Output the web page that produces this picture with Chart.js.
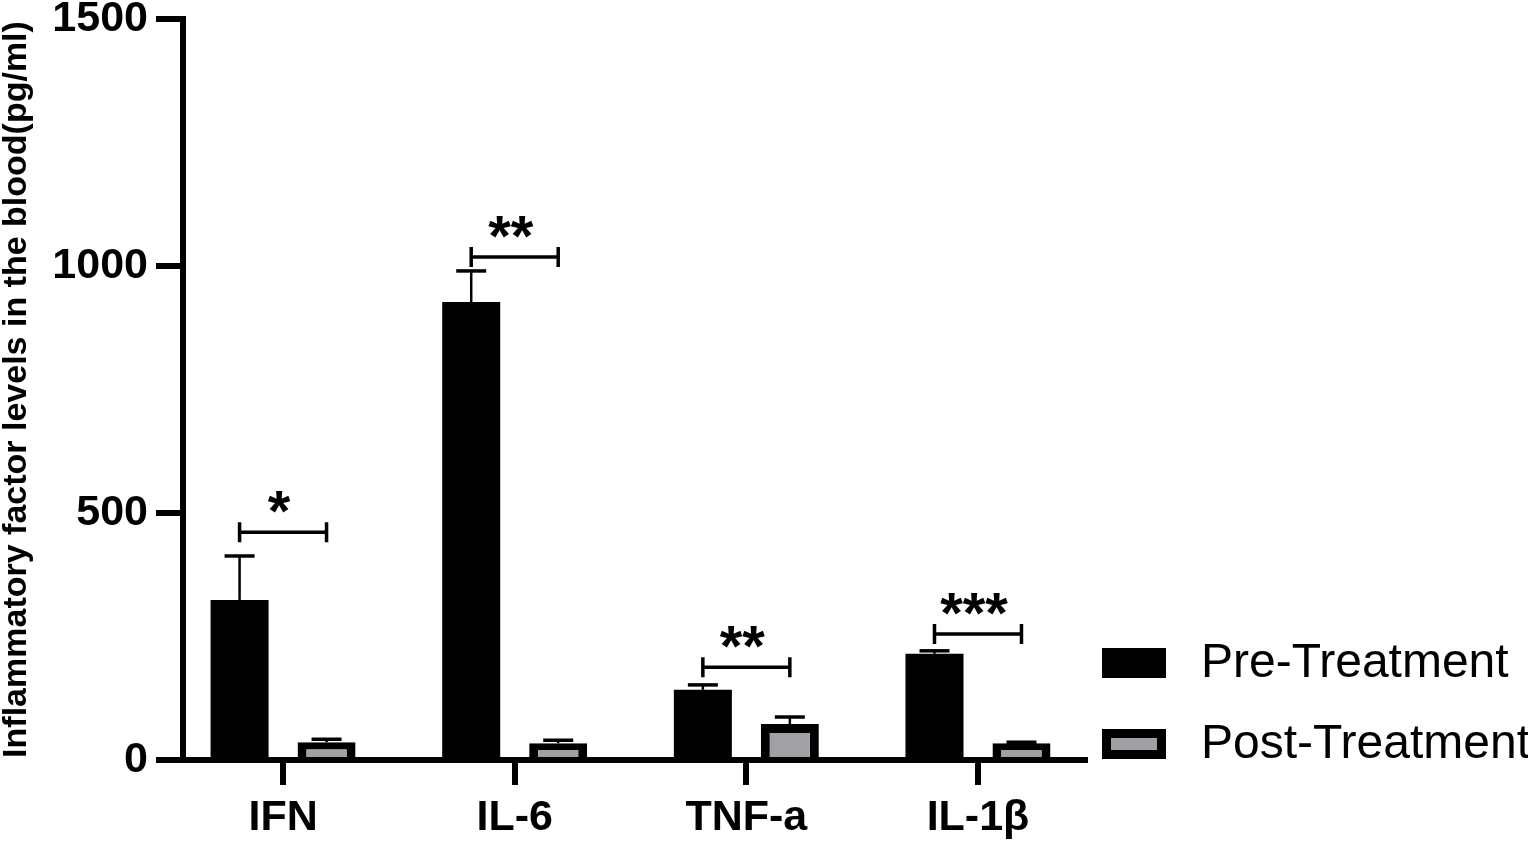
<!DOCTYPE html>
<html>
<head>
<meta charset="utf-8">
<script src="https://cdn.jsdelivr.net/npm/chart.js@4.4.1/dist/chart.umd.min.js"></script>
<style>
    html, body { margin: 0; padding: 0; background: #ffffff; }
    #wrap { width: 1528px; height: 848px; }
</style>
</head>
<body>
<div id="wrap"><canvas id="cytokineChart"></canvas></div>
<script>
// -------------------------------------------------------------------------- Data

const cytokines = ['IFN', 'IL-6', 'TNF-a', 'IL-1β']
const groups = ['Pre-Treatment', 'Post-Treatment']

const preMean = [324, 927, 142, 215]
const preSD = [89, 63, 10, 6]
const postMean = [36, 34, 73, 34]
const postSD = [6, 6, 14, 2]

// significance brackets (y value of the bracket) and their marks
const sigMarks = ['*', '**', '**', '***']
const sigLevel = [461, 1018, 188, 255]

const yTicks = [0, 500, 1000, 1500]

// -------------------------------------------------------------------------- Style

let black = '#000000'
let grey = '#a0a0a5'
const family = "'Liberation Sans', Arial, Helvetica, sans-serif"

// -------------------------------------------------------------------------- Plugins

// error bars (mean + SD) on top of every bar
const errorBars = {
    id: 'errorBars',
    afterDatasetsDraw(chart) {
        const ctx = chart.ctx
        const yScale = chart.scales.y
        const sds = [preSD, postSD]
        ctx.save()
        ctx.strokeStyle = black
        chart.data.datasets.forEach((ds, i) => {
            chart.getDatasetMeta(i).data.forEach((bar, j) => {
                const top = yScale.getPixelForValue(ds.data[j].y + sds[i][j])
                ctx.lineWidth = 2.5
                ctx.beginPath()
                ctx.moveTo(bar.x, bar.y)
                ctx.lineTo(bar.x, top)
                ctx.stroke()
                ctx.lineWidth = 3.5
                ctx.beginPath()
                ctx.moveTo(bar.x - 15, top)
                ctx.lineTo(bar.x + 15, top)
                ctx.stroke()
            })
        })
        ctx.restore()
    }
}

// brackets with stars between pre and post bars
const sigBrackets = {
    id: 'sigBrackets',
    afterDatasetsDraw(chart) {
        const ctx = chart.ctx
        const pre = chart.getDatasetMeta(0).data
        const post = chart.getDatasetMeta(1).data
        ctx.save()
        ctx.strokeStyle = black
        ctx.fillStyle = black
        ctx.lineWidth = 3.5
        ctx.font = 'bold 58px ' + family
        ctx.textAlign = 'center'
        ctx.textBaseline = 'alphabetic'
        sigLevel.forEach((v, j) => {
            const yy = chart.scales.y.getPixelForValue(v)
            const x1 = pre[j].x
            const x2 = post[j].x
            ctx.beginPath()
            ctx.moveTo(x1, yy - 10)
            ctx.lineTo(x1, yy + 10)
            ctx.moveTo(x1, yy)
            ctx.lineTo(x2, yy)
            ctx.moveTo(x2, yy - 10)
            ctx.lineTo(x2, yy + 10)
            ctx.stroke()
            ctx.fillText(sigMarks[j], (x1 + x2) / 2 - 4, yy - 1)
        })
        ctx.restore()
    }
}

// legend to the right of the plot, near the bottom
const sideLegend = {
    id: 'sideLegend',
    afterDraw(chart) {
        const {ctx, chartArea} = chart
        ctx.save()
        ctx.font = '48px ' + family
        ctx.textBaseline = 'middle'
        ctx.textAlign = 'left'
        chart.data.datasets.forEach((ds, i) => {
            const cy = chartArea.bottom - 97 + i * 81
            const x = chartArea.right + 17
            const bw = ds.borderWidth
            // outer box (border colour), then the fill inset by the border
            ctx.fillStyle = bw ? ds.borderColor : ds.backgroundColor
            ctx.fillRect(x, cy - 15, 64, 30)
            if (bw) {
                ctx.fillStyle = ds.backgroundColor
                ctx.fillRect(x + bw, cy - 15 + bw, 64 - 2 * bw, 30 - 2 * bw)
            }
            ctx.fillStyle = black
            ctx.fillText(ds.label, chartArea.right + 116, cy + 1)
        })
        ctx.restore()
    }
}

// -------------------------------------------------------------------------- Chart Config

const dataChart = {
    datasets: [{
        label: groups[0],
        data: preMean.map((v, i) => ({x: i, y: v})),
        backgroundColor: black,
        borderColor: black,
        borderWidth: 0
    }, {
        label: groups[1],
        data: postMean.map((v, i) => ({x: i, y: v})),
        backgroundColor: grey,
        borderColor: black,
        borderWidth: 9
    }]
}

const configChart = {
    type: 'bar',
    data: dataChart,
    options: {
        responsive: true,
        maintainAspectRatio: false,
        animation: false,
        events: [],
        categoryPercentage: 0.751,
        barPercentage: 0.667,
        layout: {
            padding: {top: 19, right: 443, bottom: 0, left: 0}
        },
        plugins: {
            legend: {display: false},
            tooltip: {enabled: false}
        },
        scales: {
            x: {
                type: 'linear',
                min: -0.432,
                max: 3.462,
                offset: false,
                bounds: 'data',
                z: 1,
                grid: {
                    display: true,
                    drawOnChartArea: false,
                    offset: false,
                    color: black,
                    lineWidth: 6,
                    tickLength: 25
                },
                border: {display: true, color: black, width: 6},
                afterBuildTicks: s => { s.ticks = cytokines.map((c, i) => ({value: i})) },
                afterFit: s => {
                    s.height = 88
                    s.paddingLeft = 0
                    s.paddingRight = 0
                },
                ticks: {
                    autoSkip: false,
                    maxRotation: 0,
                    padding: 7,
                    color: black,
                    font: {family: family, size: 43, weight: 'bold', lineHeight: 1.2},
                    callback: v => cytokines[v]
                }
            },
            y: {
                min: 0,
                max: 1500,
                z: 1,
                afterBuildTicks: s => { s.ticks = yTicks.map(v => ({value: v})) },
                afterFit: s => {
                    s.width = 183
                    s.paddingTop = 0
                    s.paddingBottom = 0
                },
                grid: {
                    display: true,
                    drawOnChartArea: false,
                    color: black,
                    lineWidth: 6,
                    tickLength: 27
                },
                border: {display: true, color: black, width: 6},
                ticks: {
                    padding: 8,
                    color: black,
                    font: {family: family, size: 43, weight: 'bold'},
                    callback: v => String(v)
                },
                title: {
                    display: true,
                    text: 'Inflammatory factor levels in the blood(pg/ml)',
                    color: black,
                    padding: 0,
                    font: {family: family, size: 34, weight: 'bold', lineHeight: 1}
                }
            }
        }
    },
    plugins: [errorBars, sigBrackets, sideLegend]
}

// -------------------------------------------------------------------------- Render Chart
let cytokineChart = new Chart(
    document.getElementById('cytokineChart'),
    configChart
)
</script>
</body>
</html>
